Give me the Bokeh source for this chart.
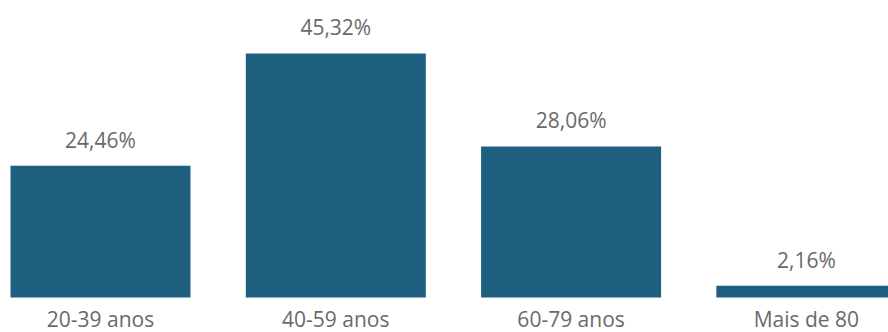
from bokeh.plotting import figure
from bokeh.models import ColumnDataSource, Range1d
from bokeh.core.properties import value
from bokeh.embed import file_html
from bokeh.resources import INLINE

categories = ["20-39 anos", "40-59 anos", "60-79 anos", "Mais de 80"]
values = [24.46, 45.32, 28.06, 2.16]
value_labels = ["24,46%", "45,32%", "28,06%", "2,16%"]

xs = list(range(len(categories)))
src = ColumnDataSource(dict(x=xs, top=values, cat=categories, lab=value_labels, zero=[0] * len(xs)))

p = figure(width=888, height=332, output_backend="svg", toolbar_location=None,
           x_range=Range1d(-0.425, 3.349), y_range=Range1d(-6.5, 55.16),
           min_border=0, outline_line_color=None)
p.xaxis.visible = False
p.yaxis.visible = False
p.grid.visible = False
p.background_fill_color = "white"
p.border_fill_color = "white"

p.vbar(x="x", top="top", bottom=0, width=0.765, source=src,
       fill_color="#1e5e7e", line_color=None)

p.text(x="x", y="top", text="lab", source=src, text_align="center",
       text_baseline="middle", y_offset=-26, text_font=value("Open Sans"),
       text_font_size="21px", text_color="#6a6a6a")
p.text(x="x", y="zero", text="cat", source=src, text_align="center",
       text_baseline="middle", y_offset=21, text_font=value("Open Sans"),
       text_font_size="21px", text_color="#6a6a6a")

open("out.html", "w").write(file_html(p, INLINE))
